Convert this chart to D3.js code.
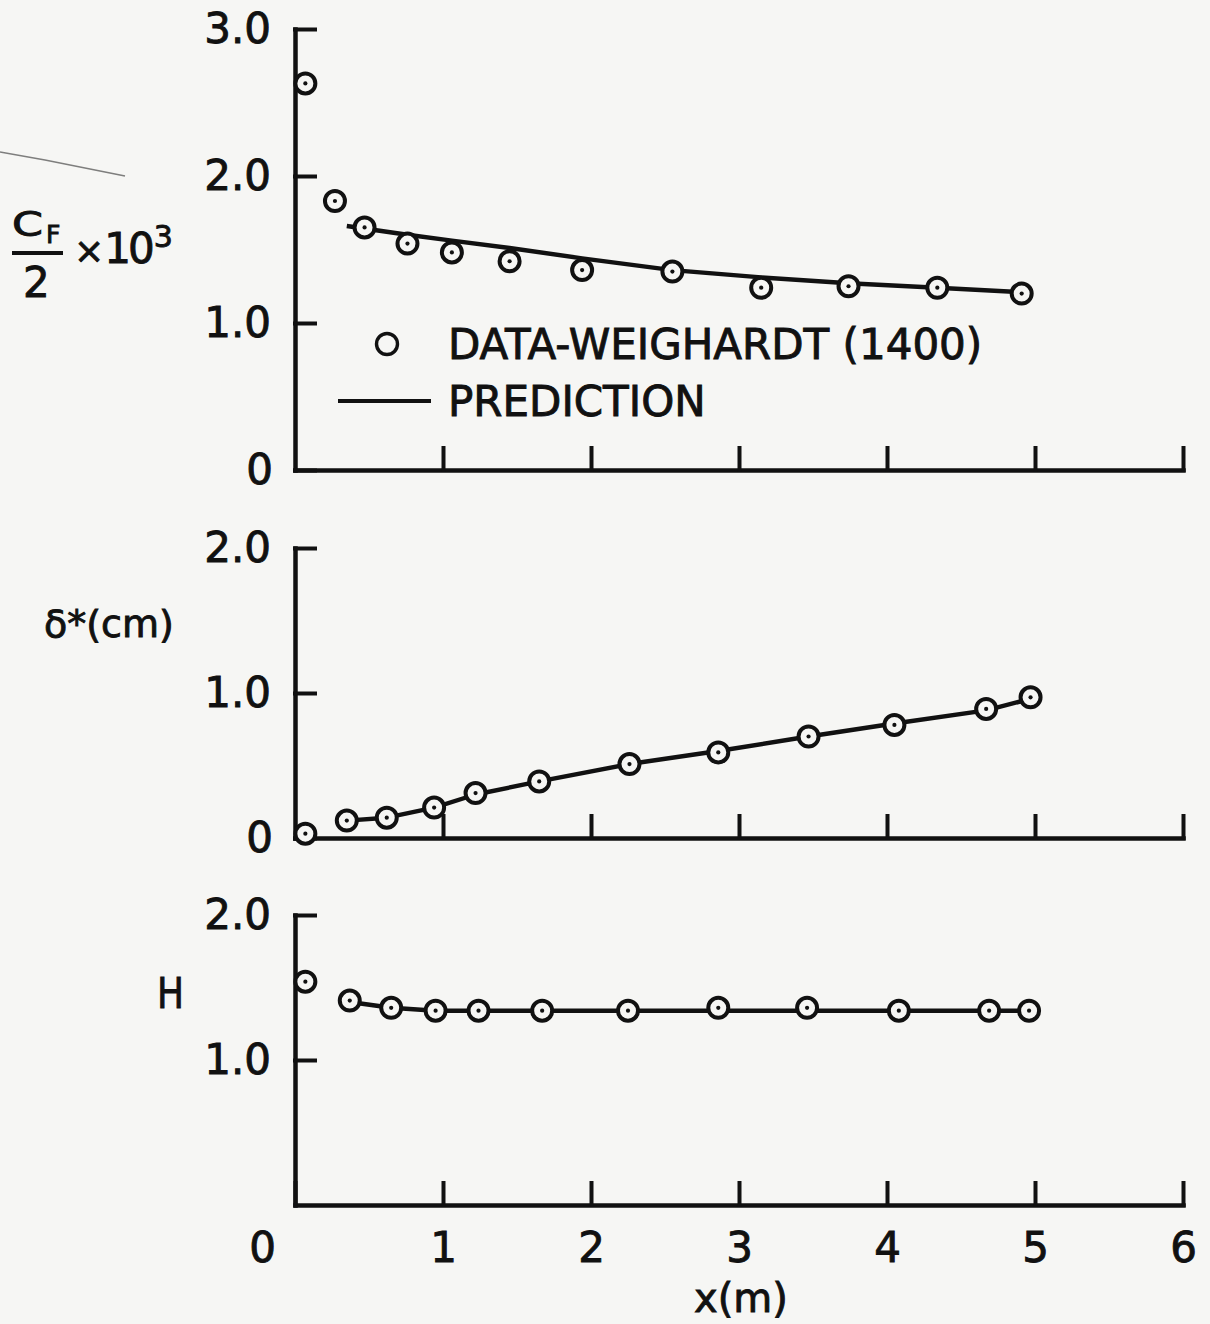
<!DOCTYPE html>
<html>
<head>
<meta charset="utf-8">
<script src="https://cdn.jsdelivr.net/npm/d3@7"></script>
<style>
  html, body { margin: 0; padding: 0; background: #f6f6f4; }
  svg { display: block; }
  text { font-family: "DejaVu Sans", sans-serif; fill: #111; stroke: #111; stroke-width: 0.9px; }
</style>
</head>
<body>
<svg id="chart" width="1210" height="1324"></svg>
<script>
// ---- data -------------------------------------------------------------
const xTickValues = [0, 1, 2, 3, 4, 5, 6];

// skin friction coefficient, Cf/2 x 10^3
const cfX      = [0.07, 0.27, 0.47, 0.76, 1.06, 1.45, 1.94, 2.55, 3.15, 3.74, 4.34, 4.91];
const cfData   = [2.63, 1.83, 1.65, 1.54, 1.48, 1.42, 1.36, 1.35, 1.24, 1.25, 1.24, 1.20];
const cfPredX  = [0.35, 0.76, 1.06, 1.45, 1.94, 2.55, 3.15, 3.74, 4.34, 4.91];
const cfPred   = [1.66, 1.60, 1.56, 1.51, 1.44, 1.36, 1.31, 1.27, 1.24, 1.21];
const cfTicks  = [0, 1, 2, 3];

// displacement thickness, delta* (cm)
const dsX      = [0.07, 0.35, 0.62, 0.94, 1.22, 1.65, 2.26, 2.86, 3.47, 4.05, 4.67, 4.97];
const dsData   = [0.03, 0.12, 0.14, 0.21, 0.31, 0.39, 0.51, 0.59, 0.70, 0.78, 0.89, 0.97];
const dsPredX  = [0.35, 0.62, 0.94, 1.22, 1.65, 2.26, 2.86, 3.47, 4.05, 4.67, 4.97];
const dsPred   = [0.12, 0.14, 0.21, 0.30, 0.39, 0.51, 0.60, 0.70, 0.79, 0.88, 0.96];
const dsTicks  = [0, 1, 2];

// shape factor, H
const hX       = [0.07, 0.37, 0.65, 0.95, 1.24, 1.67, 2.25, 2.86, 3.46, 4.08, 4.69, 4.96];
const hData    = [1.54, 1.41, 1.36, 1.34, 1.34, 1.34, 1.34, 1.36, 1.36, 1.34, 1.34, 1.34];
const hPredX   = [0.37, 0.65, 0.95, 1.67, 2.86, 4.08, 4.96];
const hPred    = [1.40, 1.36, 1.34, 1.34, 1.34, 1.34, 1.34];
const hTicks   = [1, 2];

const legendLabels = ["DATA-WEIGHARDT (1400)", "PREDICTION"];

// ---- layout -----------------------------------------------------------
const INK = "#111";
const BG = "#f6f6f4";
const svg = d3.select("#chart");

const x = d3.scaleLinear().domain([0, 6]).range([295, 1183]);

const panels = [
  { xs: cfX, ys: cfData, px: cfPredX, py: cfPred, ticks: cfTicks, domain: [0, 3], range: [470, 29], xLabels: false },
  { xs: dsX, ys: dsData, px: dsPredX, py: dsPred, ticks: dsTicks, domain: [0, 2], range: [838, 548], xLabels: false },
  { xs: hX,  ys: hData,  px: hPredX,  py: hPred,  ticks: hTicks,  domain: [0, 2], range: [1205, 915], xLabels: true }
];

function styleAxis(g) {
  g.attr("font-family", null).attr("font-size", null);
  g.select(".domain").attr("stroke", INK).attr("stroke-width", 4.5).attr("stroke-linecap", "square");
  g.selectAll(".tick line").attr("stroke", INK).attr("stroke-width", 4).attr("stroke-linecap", "square");
  g.selectAll(".tick text").attr("fill", INK).style("font-size", "42px");
}

panels.forEach(p => {
  const y = d3.scaleLinear().domain(p.domain).range(p.range);
  const g = svg.append("g");

  // x axis with upward ticks
  const xAxis = d3.axisBottom(x)
    .tickValues(p.xLabels ? xTickValues : xTickValues.slice(1))
    .tickSizeInner(-22).tickSizeOuter(0).tickPadding(27)
    .tickFormat(p.xLabels ? d3.format("d") : () => "");
  const gx = g.append("g").attr("transform", `translate(0,${y(0)})`).call(xAxis).call(styleAxis);
  gx.selectAll(".tick text").filter(d => d === 0).attr("dx", -33);

  // y axis with inward ticks
  const yAxis = d3.axisLeft(y)
    .tickValues(p.ticks)
    .tickSizeInner(-20).tickSizeOuter(0).tickPadding(24)
    .tickFormat(d => d === 0 ? "0" : d3.format(".1f")(d));
  const gy = g.append("g").attr("transform", `translate(${x(0)},0)`).call(yAxis).call(styleAxis);
  gy.selectAll(".tick text").filter(d => d === 0).attr("dx", 2);

  // prediction curve
  const line = d3.line().x(d => x(d[0])).y(d => y(d[1]));
  g.append("path")
    .datum(p.px.map((v, i) => [v, p.py[i]]))
    .attr("d", line)
    .attr("fill", "none").attr("stroke", INK).attr("stroke-width", 4.4)
    .attr("stroke-linejoin", "round");

  // measured points: open circle with a centre dot
  const pts = g.append("g").selectAll("g")
    .data(p.xs.map((v, i) => [v, p.ys[i]]))
    .join("g")
    .attr("transform", d => `translate(${x(d[0])},${y(d[1])})`);
  pts.append("circle").attr("r", 10).attr("fill", BG).attr("stroke", INK).attr("stroke-width", 4);
  pts.append("circle").attr("r", 2.1).attr("fill", INK);
});

// ---- legend -----------------------------------------------------------
const legend = svg.append("g");
legend.append("circle").attr("cx", 387).attr("cy", 344).attr("r", 10.5)
  .attr("fill", "none").attr("stroke", INK).attr("stroke-width", 3.4);
legend.append("text").attr("x", 448).attr("y", 359).style("font-size", "42px").text(legendLabels[0]);
legend.append("line").attr("x1", 338).attr("x2", 431).attr("y1", 401).attr("y2", 401)
  .attr("stroke", INK).attr("stroke-width", 4);
legend.append("text").attr("x", 448).attr("y", 416).style("font-size", "42px").text(legendLabels[1]);

// ---- axis titles ------------------------------------------------------
const cf = svg.append("g");
cf.append("text").attr("x", 12).attr("y", 236).style("font-size", "33px")
  .attr("textLength", 31).attr("lengthAdjust", "spacingAndGlyphs").text("C");
cf.append("text").attr("x", 46).attr("y", 243).style("font-size", "25px").text("F");
cf.append("line").attr("x1", 12).attr("x2", 63).attr("y1", 253).attr("y2", 253)
  .attr("stroke", INK).attr("stroke-width", 4);
cf.append("text").attr("x", 23).attr("y", 297).style("font-size", "42px").text("2");

// "×10³" as a single text run with a raised exponent
const mult = cf.append("text").attr("x", 74).attr("y", 263);
mult.append("tspan").style("font-size", "36px").text("×");
mult.append("tspan").style("font-size", "42px").style("letter-spacing", "-3px").text("10");
mult.append("tspan").style("font-size", "30px").attr("dx", 2).attr("dy", -16).text("3");

svg.append("text").attr("x", 44).attr("y", 637).style("font-size", "38px").text("δ*(cm)");
svg.append("text").attr("x", 157).attr("y", 1008).style("font-size", "42px")
  .attr("textLength", 27).attr("lengthAdjust", "spacingAndGlyphs").text("H");
svg.append("text").attr("x", 741).attr("y", 1312).attr("text-anchor", "middle")
  .style("font-size", "40px").text("x(m)");

// faint pencil stroke near the top-left corner
svg.append("path").attr("d", "M0,152 L45,160 L125,176")
  .attr("fill", "none").attr("stroke", "#555").attr("stroke-width", 1.6).attr("opacity", 0.75);
</script>
</body>
</html>
